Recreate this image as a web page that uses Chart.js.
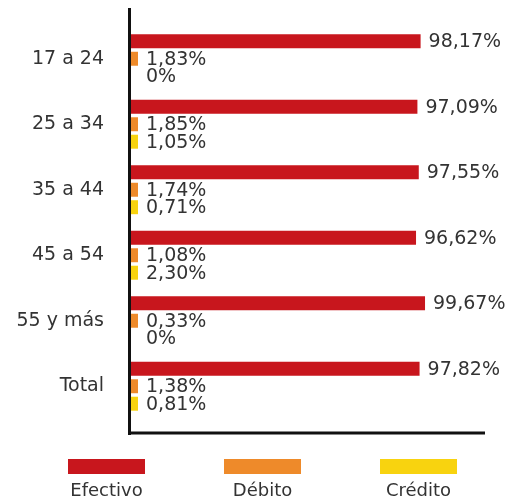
<!DOCTYPE html>
<html><head><meta charset="utf-8">
<script src="https://cdn.jsdelivr.net/npm/chart.js@4/dist/chart.umd.min.js"></script>
<style>html,body{margin:0;padding:0;background:#fff}</style>
</head><body>
<canvas id="c" width="515" height="502"></canvas>
<script>
const categories = ['17 a 24', '25 a 34', '35 a 44', '45 a 54', '55 y más', 'Total'];
const efectivo = [98.17, 97.09, 97.55, 96.62, 99.67, 97.82];
const debito = [1.83, 1.85, 1.74, 1.08, 0.33, 1.38];
const credito = [0, 1.05, 0.71, 2.30, 0, 0.81];
const seriesNames = ['Efectivo', 'Débito', 'Crédito'];
const seriesColors = ['#C8161D', '#EE8A2A', '#F8D30F'];
const seriesValues = [efectivo, debito, credito];

const FONT = 'DejaVu Sans';
const TEXT = '#333333';
Chart.defaults.font.family = FONT;
Chart.defaults.color = TEXT;

function fmt(v) { return v === 0 ? '0%' : v.toFixed(2).replace('.', ',') + '%'; }

const customDraw = {
  id: 'customDraw',
  afterDatasetsDraw(chart) {
    const ctx = chart.ctx, ca = chart.chartArea, xs = chart.scales.x;
    ctx.save();
    ctx.font = '19px "' + FONT + '"';
    ctx.fillStyle = TEXT;
    ctx.textBaseline = 'middle';
    ctx.textAlign = 'left';
    seriesValues.forEach((vals, di) => {
      const meta = chart.getDatasetMeta(di);
      vals.forEach((v, i) => {
        const el = meta.data[i];
        const end = v ? el.x : xs.getPixelForValue(0);
        const x = Math.max(end + 8, ca.left + 15);
        ctx.fillText(fmt(v), x, el.y + 1);
      });
    });
    ctx.restore();
  },
  afterDraw(chart) {
    const ctx = chart.ctx, ca = chart.chartArea;
    ctx.save();
    ctx.strokeStyle = '#111';
    ctx.lineWidth = 3;
    ctx.beginPath();
    ctx.moveTo(ca.left - 1.5, ca.top - 18);
    ctx.lineTo(ca.left - 1.5, ca.bottom + 16);
    ctx.moveTo(ca.left - 3, ca.bottom + 14);
    ctx.lineTo(ca.right, ca.bottom + 14);
    ctx.stroke();
    // legend: box above label
    const cx0 = chart.width / 2 + 5;
    chart.data.datasets.forEach((ds, i) => {
      const cx = cx0 + (i - 1) * 156;
      ctx.fillStyle = ds.backgroundColor;
      ctx.fillRect(cx - 38.5, 459, 77, 15);
      ctx.fillStyle = TEXT;
      ctx.font = '18px "' + FONT + '"';
      ctx.textAlign = 'center';
      ctx.textBaseline = 'middle';
      ctx.fillText(ds.label, cx, 491);
    });
    ctx.restore();
  }
};

new Chart(document.getElementById('c'), {
  type: 'bar',
  data: {
    labels: categories,
    datasets: seriesNames.map((name, i) => ({
      label: name,
      data: seriesValues[i].map(v => v === 0 ? null : v),
      backgroundColor: seriesColors[i],
      borderWidth: 0,
      minBarLength: 7,
      categoryPercentage: 0.8,
      barPercentage: 0.8
    }))
  },
  options: {
    indexAxis: 'y',
    responsive: false,
    animation: false,
    layout: { padding: { top: 26, right: 30, bottom: 83, left: 0 } },
    plugins: { legend: { display: false }, tooltip: { enabled: false } },
    scales: {
      x: { display: false, min: 0, max: 120 },
      y: {
        grid: { display: false, drawTicks: false },
        border: { display: false },
        ticks: { padding: 27, color: TEXT, font: { size: 19, family: FONT } },
        afterFit(scale) { scale.width = 131; scale.paddingTop = 0; scale.paddingBottom = 0; }
      }
    }
  },
  plugins: [customDraw]
});
</script>
</body></html>
